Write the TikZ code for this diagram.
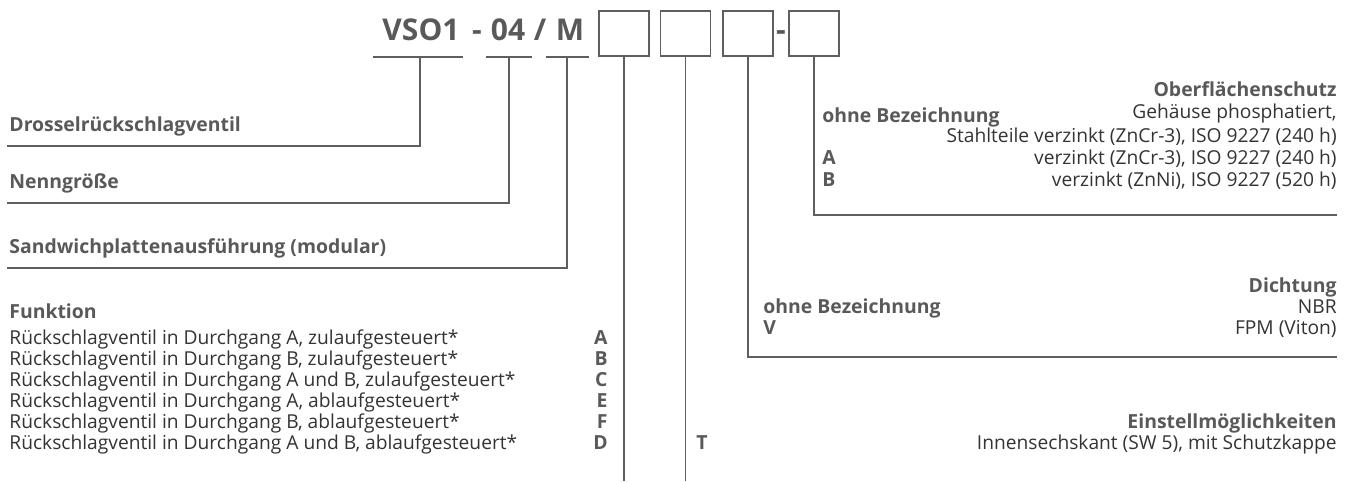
\documentclass[tikz,border=0pt]{standalone}
\usepackage{fontspec}
\setmainfont{Open Sans}
\usetikzlibrary{positioning}
\definecolor{txtgray}{HTML}{333333}
\definecolor{headgray}{HTML}{595959}
\definecolor{linegray}{HTML}{5F5F5F}

\begin{document}
\begin{tikzpicture}[x=0.5pt, y=-0.5pt,
  lbl/.style={font=\fontsize{9.7}{11}\selectfont\bfseries, text=headgray, inner sep=0pt},
  txt/.style={font=\fontsize{9.6}{11}\selectfont, text=txtgray, inner sep=0pt},
  code/.style={font=\fontsize{15}{18}\selectfont\bfseries, text=headgray, inner sep=0pt},
  codebox/.style={rectangle, draw=linegray, line width=0.6pt, minimum width=25pt, minimum height=22.5pt, inner sep=0pt},
  lead/.style={draw=linegray, line width=0.6pt}
]
\useasboundingbox (0,0) rectangle (1352,481);

% Type code
\node[code, anchor=base] (vso) at (421,41) {VSO1};
\node[code, anchor=base] (sep1) at (477,41) {-};
\node[code, anchor=base] (size) at (508,41) {04};
\node[code, anchor=base] (sep2) at (540,41) {/};
\node[code, anchor=base] (mod) at (570,41) {M};

% Empty boxes
\node[codebox] (b1) at (624,33.5) {};
\node[codebox] (b2) at (685.5,33.5) {};
\node[codebox] (b3) at (748,33.5) {};
\node[code, anchor=base] (sep3) at (781,41) {-};
\node[codebox] (b4) at (814,33.5) {};

% Underlines
\coordinate (vsoL) at (373,57);  \coordinate (vsoR) at (463,57);
\coordinate (sizeL) at (486,57); \coordinate (sizeR) at (532,57);
\coordinate (modL) at (546,57);  \coordinate (modR) at (589,57);
\draw[lead] (vsoL) -- (vsoR);
\draw[lead] (sizeL) -- (sizeR);
\draw[lead] (modL) -- (modR);

% Ends of the leads
\coordinate (vsoM) at (420,57);
\coordinate (sizeM) at (509,57);
\coordinate (modM) at (567,57);
\coordinate (drosselEnd) at (7,146);
\coordinate (sizeEnd) at (7,203);
\coordinate (modEnd) at (7,268);
\coordinate (bottom) at (0,481);
\coordinate (dichtEnd) at (1337,357);
\coordinate (oberEnd) at (1337,215);

% Leads
\draw[lead] (vsoM) |- (drosselEnd);
\draw[lead] (sizeM) |- (sizeEnd);
\draw[lead] (modM) |- (modEnd);
\draw[lead] (b1.south) -- (b1.south |- bottom);
\draw[lead] (b2.south) -- (b2.south |- bottom);
\draw[lead] (b3.south) |- (dichtEnd);
\draw[lead] (b4.south) |- (oberEnd);

% Left labels
\node[lbl, anchor=base west] (drossel) at (9,131) {Drosselrückschlagventil};
\node[lbl, anchor=base west] (nenn) at (9,188) {Nenngröße};
\node[lbl, anchor=base west] (sandw) at (9,253) {Sandwichplattenausführung (modular)};

% Funktion
\node[lbl, anchor=base west] (funk) at (9,318) {Funktion};
\foreach \desc/\letter [count=\i from 0] in {
  {Rückschlagventil in Durchgang A, zulaufgesteuert*}/A,
  {Rückschlagventil in Durchgang B, zulaufgesteuert*}/B,
  {Rückschlagventil in Durchgang A und B, zulaufgesteuert*}/C,
  {Rückschlagventil in Durchgang A, ablaufgesteuert*}/E,
  {Rückschlagventil in Durchgang B, ablaufgesteuert*}/F,
  {Rückschlagventil in Durchgang A und B, ablaufgesteuert*}/D} {
  \node[txt, anchor=base west] (fn\i) at (9,{344+21*\i}) {\desc};
  \node[lbl, anchor=base east] (fc\i) at (608,{344+21*\i}) {\letter};
}

% Einstellmoeglichkeiten
\node[lbl, anchor=base east] (einst) at (1337,428) {Einstellmöglichkeiten};
\node[lbl, anchor=base] (einstT) at (702,449) {T};
\node[txt, anchor=base east] (einstT-d) at (1337,449) {Innensechskant (SW 5), mit Schutzkappe};

% Dichtung
\node[lbl, anchor=base east] (dicht) at (1337,292) {Dichtung};
\node[lbl, anchor=base west] (dicht0) at (763,313) {ohne Bezeichnung};
\node[txt, anchor=base east] (dicht0-d) at (1337,313) {NBR};
\node[lbl, anchor=base west] (dichtV) at (763,334) {V};
\node[txt, anchor=base east] (dichtV-d) at (1337,334) {FPM (Viton)};

% Oberflaechenschutz
\node[lbl, anchor=base east] (ober) at (1337,97) {Oberflächenschutz};
\node[lbl, anchor=base west] (ober0) at (822,122) {ohne Bezeichnung};
\node[txt, anchor=base east] (ober0-d) at (1337,119) {Gehäuse phosphatiert,};
\node[txt, anchor=base east] (ober0-e) at (1337,142) {Stahlteile verzinkt (ZnCr-3), ISO 9227 (240 h)};
\node[lbl, anchor=base west] (oberA) at (822,164) {A};
\node[txt, anchor=base east] (oberA-d) at (1337,164) {verzinkt (ZnCr-3), ISO 9227 (240 h)};
\node[lbl, anchor=base west] (oberB) at (822,186) {B};
\node[txt, anchor=base east] (oberB-d) at (1337,186) {verzinkt (ZnNi), ISO 9227 (520 h)};

\end{tikzpicture}
\end{document}
